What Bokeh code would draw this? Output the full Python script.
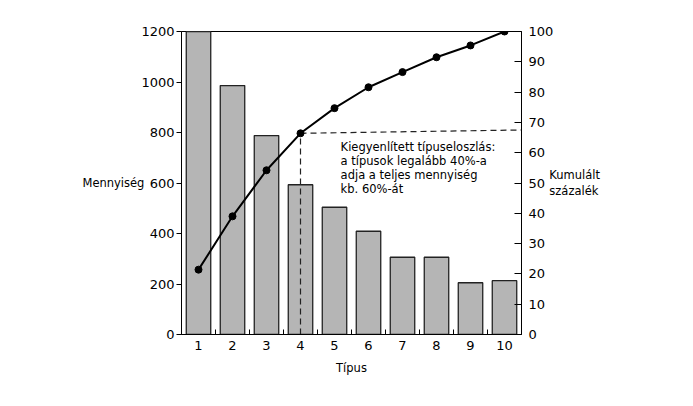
from bokeh.plotting import figure
from bokeh.models import Range1d, LinearAxis, FixedTicker, Label
from bokeh.embed import file_html
from bokeh.resources import INLINE

# ---- data ----
types = [1, 2, 3, 4, 5, 6, 7, 8, 9, 10]
type_labels = ["1", "2", "3", "4", "5", "6", "7", "8", "9", "10"]
quantity = [1200, 986, 788, 593, 504, 409, 306, 306, 205, 213]
cumulative_pct = [21.4, 39.0, 54.2, 66.4, 74.7, 81.6, 86.6, 91.5, 95.4, 100.0]
left_ticks = [0, 200, 400, 600, 800, 1000, 1200]
right_ticks = [0, 10, 20, 30, 40, 50, 60, 70, 80, 90, 100]
marked_type = 4
guide_end_pct = 67.5
note_lines = [
    "Kiegyenlített típuseloszlás:",
    "a típusok legalább 40%-a",
    "adja a teljes mennyiség",
    "kb. 60%-át",
]
x_title = "Típus"
y_title = "Mennyiség"
y2_title = "Kumulált\nszázalék"

FONT = "DejaVu Sans"

p = figure(
    frame_width=340, frame_height=303,
    x_range=Range1d(0.5, 10.5), y_range=Range1d(0, 1200),
    output_backend="svg", toolbar_location=None,
    min_border_left=181, min_border_top=31, min_border_right=150, min_border_bottom=62,
    x_axis_type=None, y_axis_type=None,
)
p.background_fill_color = "white"
p.border_fill_color = "white"
p.outline_line_color = "black"
p.outline_line_width = 1
p.xgrid.visible = False
p.ygrid.visible = False
p.extra_y_ranges = {"pct": Range1d(0, 100)}

# axes
xaxis = LinearAxis(ticker=FixedTicker(ticks=types, minor_ticks=[t + 0.5 for t in types[:-1]]))
xaxis.major_label_overrides = {t: l for t, l in zip(types, type_labels)}
xaxis.major_tick_in = 0
xaxis.major_tick_out = 0
xaxis.minor_tick_in = 5
xaxis.minor_tick_out = 0
xaxis.minor_tick_line_color = "black"
xaxis.major_label_standoff = 6
xaxis.major_label_text_font = FONT
xaxis.major_label_text_font_size = "13px"
xaxis.major_label_text_color = "black"
xaxis.axis_line_color = "black"
xaxis.axis_label = x_title
xaxis.axis_label_text_font = FONT
xaxis.axis_label_text_font_size = "11.5px"
xaxis.axis_label_text_font_style = "normal"
xaxis.axis_label_text_color = "black"
xaxis.axis_label_standoff = 8
p.add_layout(xaxis, "below")

yaxis = LinearAxis(ticker=FixedTicker(ticks=left_ticks, minor_ticks=[]))
yaxis.major_tick_in = 0
yaxis.major_tick_out = 5
yaxis.minor_tick_out = 0
yaxis.major_label_standoff = 2
yaxis.major_label_text_font = FONT
yaxis.major_label_text_font_size = "13px"
yaxis.major_label_text_color = "black"
yaxis.axis_line_color = "black"
yaxis.major_tick_line_color = "black"
yaxis.axis_label = y_title
yaxis.axis_label_orientation = "horizontal"
yaxis.axis_label_text_font = FONT
yaxis.axis_label_text_font_size = "11.5px"
yaxis.axis_label_text_font_style = "normal"
yaxis.axis_label_text_color = "black"
yaxis.axis_label_standoff = -6
p.add_layout(yaxis, "left")

y2axis = LinearAxis(y_range_name="pct", ticker=FixedTicker(ticks=right_ticks, minor_ticks=[]))
y2axis.major_tick_in = 7
y2axis.major_tick_out = 0
y2axis.minor_tick_out = 0
y2axis.major_label_standoff = 7
y2axis.major_label_text_font = FONT
y2axis.major_label_text_font_size = "13px"
y2axis.major_label_text_color = "black"
y2axis.axis_line_color = "black"
y2axis.major_tick_line_color = "black"
y2axis.axis_label = y2_title
y2axis.axis_label_orientation = "horizontal"
y2axis.axis_label_text_align = "center"
y2axis.axis_label_text_font = FONT
y2axis.axis_label_text_font_size = "11.5px"
y2axis.axis_label_text_font_style = "normal"
y2axis.axis_label_text_color = "black"
y2axis.axis_label_standoff = -7
p.add_layout(y2axis, "right")

# bars
p.vbar(x=types, top=quantity, width=0.72, bottom=0,
       fill_color="#b5b5b5", line_color="#222222", line_width=1.3)

# dashed guides
idx = types.index(marked_type)
p.line([marked_type, marked_type], [0, cumulative_pct[idx]], y_range_name="pct",
       line_color="#222222", line_width=1.2, line_dash="6 4")
p.line([marked_type, 10.5], [cumulative_pct[idx], guide_end_pct], y_range_name="pct",
       line_color="#222222", line_width=1.2, line_dash="6 4")

# cumulative line
p.line(types, cumulative_pct, y_range_name="pct", line_color="black", line_width=2)
p.scatter(types, cumulative_pct, y_range_name="pct", size=7, fill_color="black", line_color="black")

# annotation text
for i, line in enumerate(note_lines):
    p.add_layout(Label(x=5.18, y=743 - i * 55, text=line, text_font=FONT, text_font_size="11.5px",
                       text_align="left", text_baseline="middle", text_color="black"))

open("out.html", "w").write(file_html(p, INLINE))
